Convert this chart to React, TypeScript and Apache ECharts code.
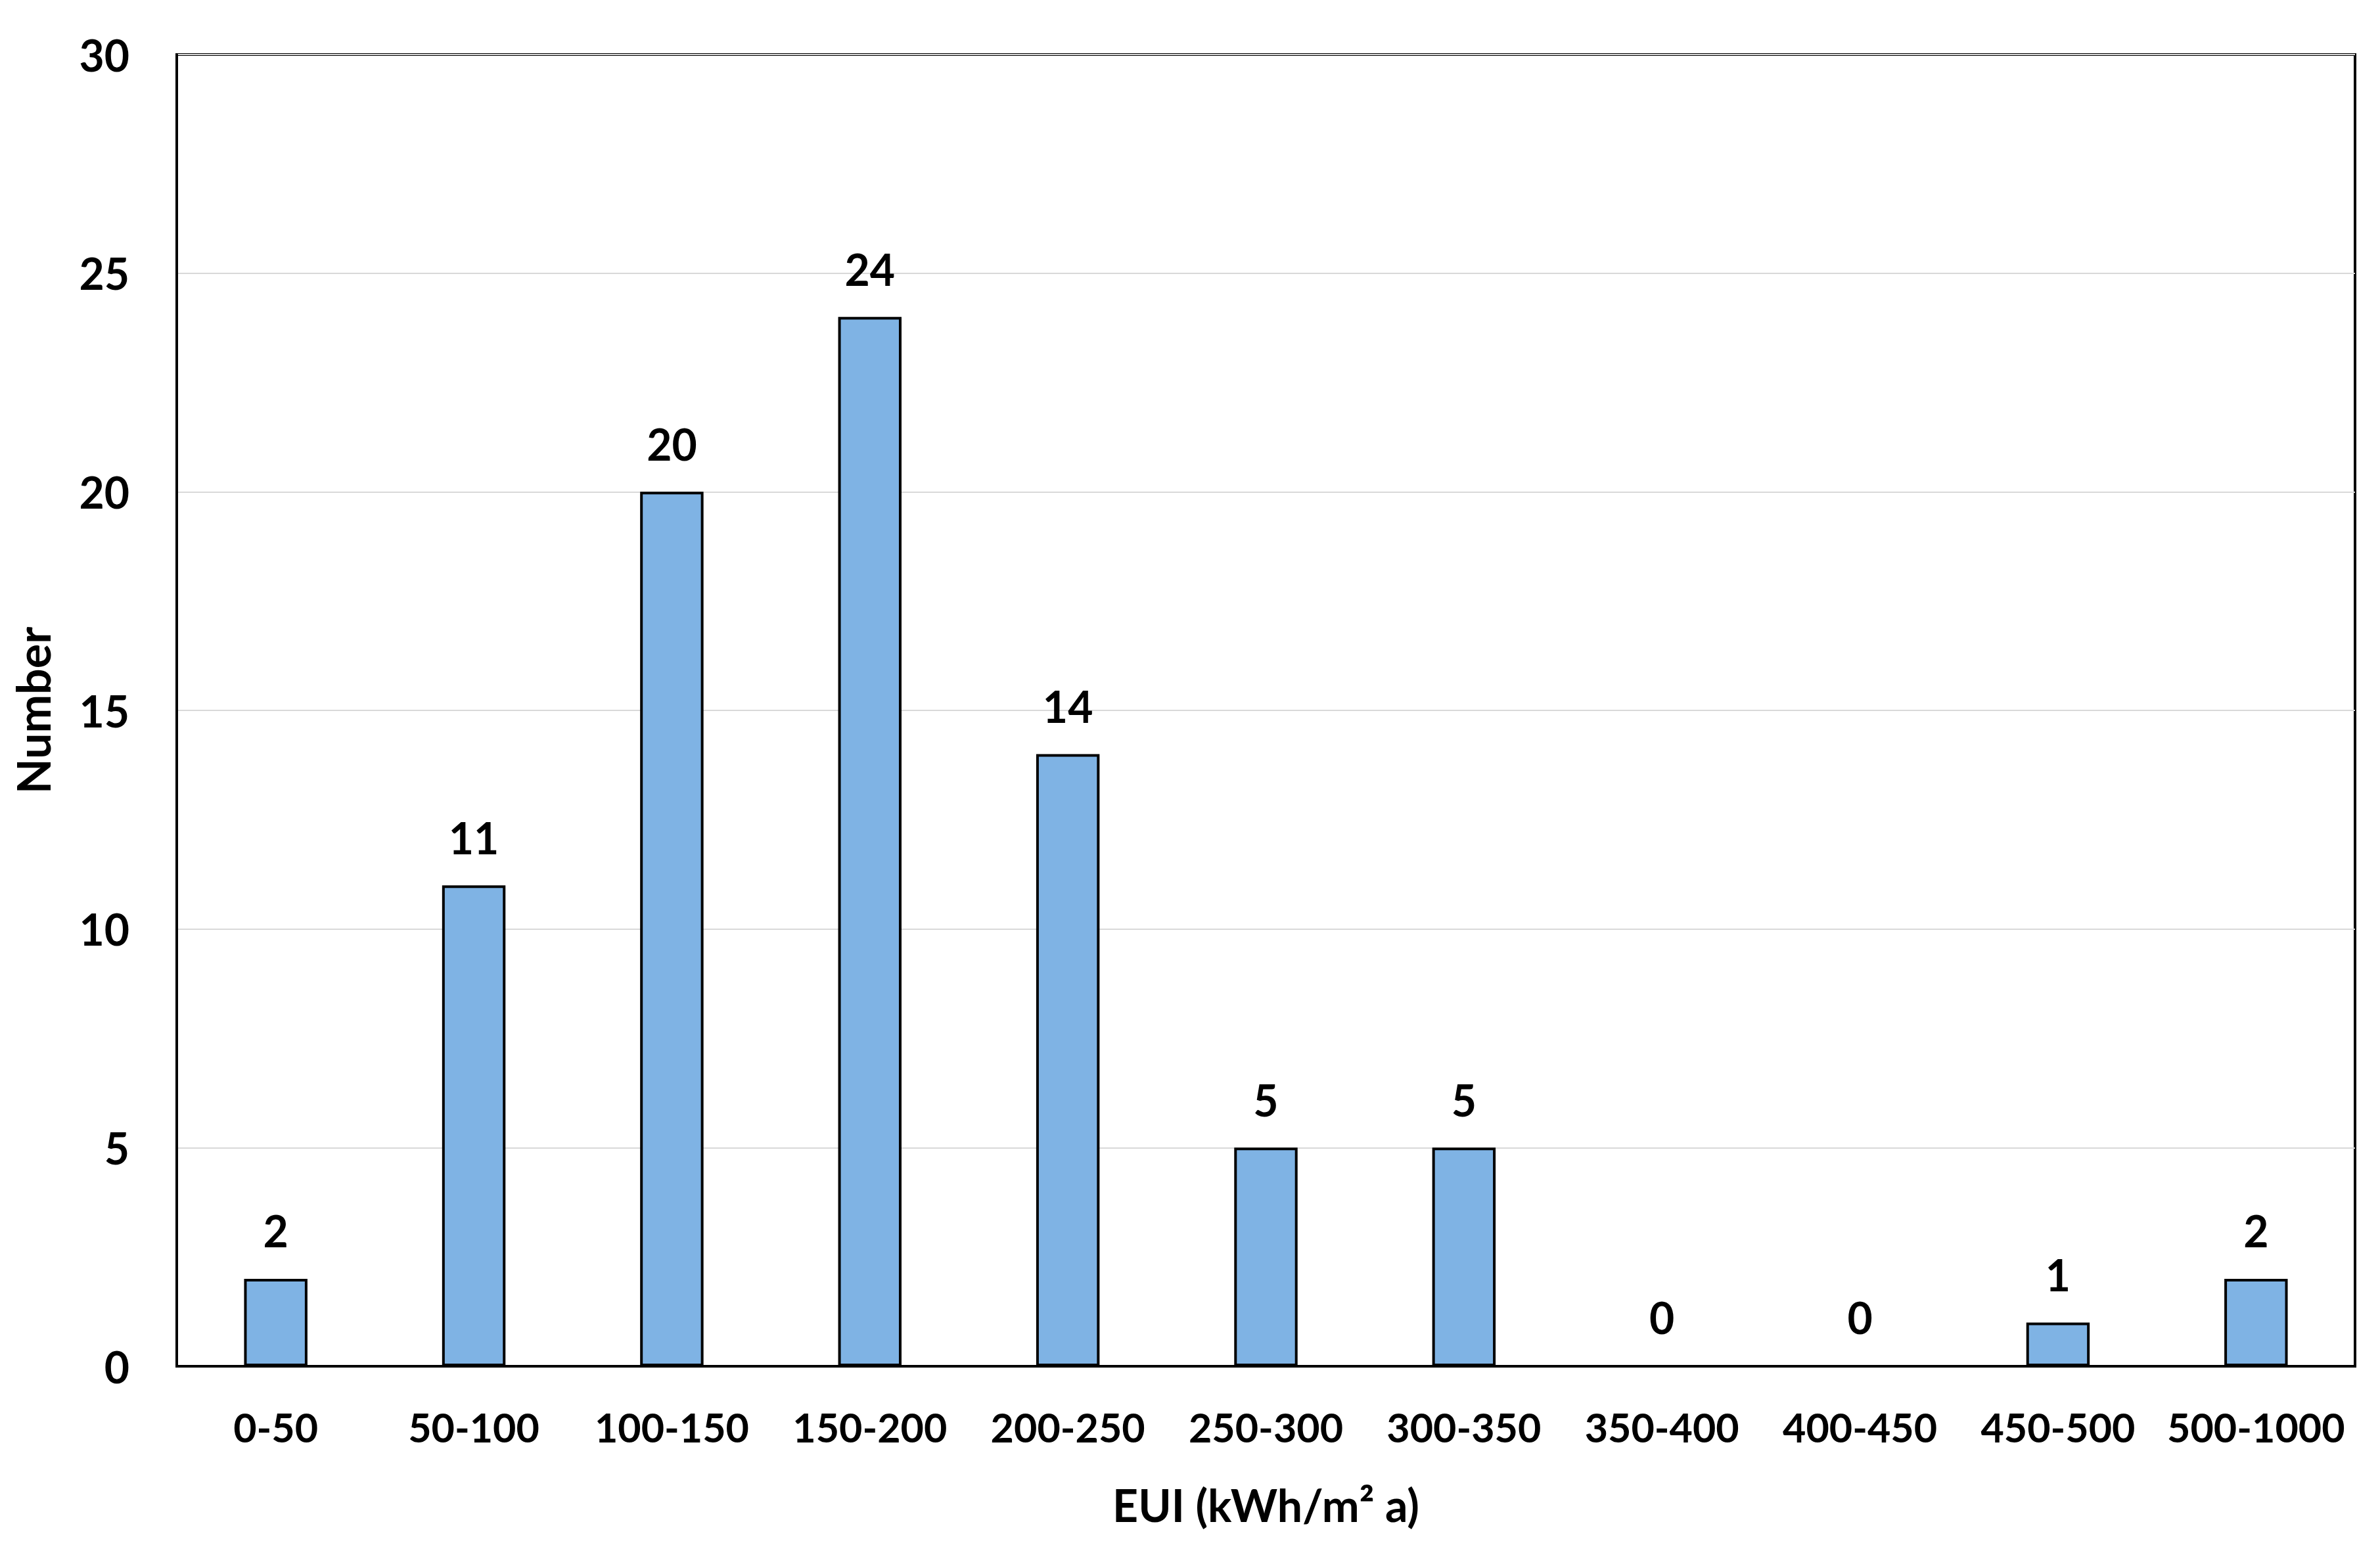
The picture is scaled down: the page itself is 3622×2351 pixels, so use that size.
import React, { useEffect, useRef } from "react";
import * as echarts from "echarts";

const categories = ["0-50", "50-100", "100-150", "150-200", "200-250", "250-300", "300-350", "350-400", "400-450", "450-500", "500-1000"];
const counts = [2, 11, 20, 24, 14, 5, 5, 0, 0, 1, 2];
const xAxisTitle = "EUI (kWh/m² a)";
const yAxisTitle = "Number";

export default function App() {
  const ref = useRef<HTMLDivElement>(null);
  useEffect(() => {
    const chart = echarts.init(ref.current!, null, { renderer: "svg" });
    const font = "Lato";
    chart.setOption({
      animation: false,
      backgroundColor: "#ffffff",
      grid: {
        left: 269,
        right: 38,
        top: 83,
        bottom: 272,
        show: true,
        borderColor: "#000",
        borderWidth: 4,
        containLabel: false,
      },
      xAxis: {
        type: "category",
        data: categories,
        axisTick: { show: false },
        axisLine: { show: true, lineStyle: { color: "#000", width: 4 } },
        axisLabel: { interval: 0, color: "#000", fontFamily: font, fontWeight: "bold", fontSize: 61, margin: 62 },
        name: xAxisTitle,
        nameLocation: "middle",
        nameGap: 176,
        nameTextStyle: { color: "#000", fontFamily: font, fontWeight: "bold", fontSize: 68 },
      },
      yAxis: {
        type: "value",
        min: 0,
        max: 30,
        interval: 5,
        axisTick: { show: false },
        axisLine: { show: true, lineStyle: { color: "#000", width: 4 } },
        splitLine: { show: true, lineStyle: { color: "#d9d9d9", width: 2 } },
        axisLabel: { color: "#000", fontFamily: font, fontWeight: "bold", fontSize: 66, margin: 72 },
        name: yAxisTitle,
        nameLocation: "middle",
        nameGap: 184,
        nameRotate: 90,
        nameTextStyle: { color: "#000", fontFamily: font, fontWeight: "bold", fontSize: 70 },
      },
      series: [
        {
          type: "bar",
          data: counts,
          barWidth: "32%",
          itemStyle: { color: "#7FB3E4", borderColor: "#000", borderWidth: 4 },
          label: {
            show: true,
            position: "top",
            distance: 40,
            color: "#000",
            fontFamily: font,
            fontWeight: "bold",
            fontSize: 66,
          },
        },
      ],
    });
    return () => chart.dispose();
  }, []);
  return <div ref={ref} style={{ position: "fixed", left: 0, top: 0, width: 3622, height: 2351 }} />;
}
